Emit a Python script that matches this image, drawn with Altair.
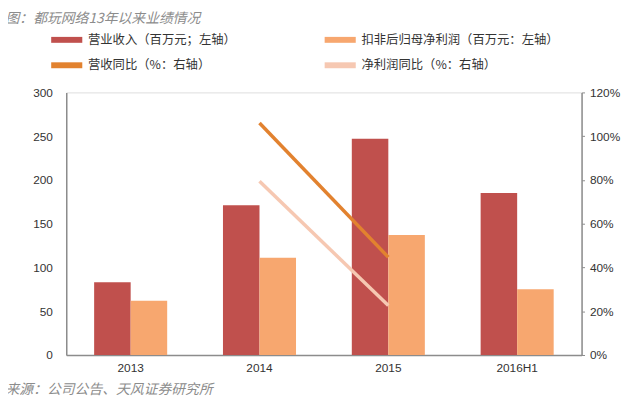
import altair as alt
import pandas as pd

years = ["2013", "2014", "2015", "2016H1"]
revenue = [83, 171, 247, 185]
net_profit = [62, 111, 137, 75]

growth_years = ["2014", "2015"]
revenue_growth = [1.06, 0.447]
profit_growth = [0.794, 0.226]

s_rev = "营业收入（百万元；左轴）"
s_np = "扣非后归母净利润（百万元：左轴）"
s_rg = "营收同比（%：右轴）"
s_pg = "净利润同比（%：右轴）"
series = [s_rev, s_rg, s_np, s_pg]
colors = ["#C0504D", "#E2822F", "#F7A76F", "#F6C8B2"]

chart_title = "图：都玩网络13年以来业绩情况"
source_note = "来源：公司公告、天风证券研究所"

bars = pd.DataFrame(
    [{"year": y, "series": s_rev, "value": v} for y, v in zip(years, revenue)]
    + [{"year": y, "series": s_np, "value": v} for y, v in zip(years, net_profit)]
)
lines = pd.DataFrame(
    [{"year": y, "series": s_rg, "value": v} for y, v in zip(growth_years, revenue_growth)]
    + [{"year": y, "series": s_pg, "value": v} for y, v in zip(growth_years, profit_growth)]
)

font = "Liberation Sans"
cjk = "Noto Sans CJK SC"
note_grey = "#8C8C8C"

xscale = alt.Scale(domain=years, paddingInner=0.433, paddingOuter=0.2165)
color = alt.Color(
    "series:N",
    scale=alt.Scale(domain=series, range=colors),
    legend=alt.Legend(
        title=None,
        orient="none",
        legendX=-13,
        legendY=-67,
        columns=2,
        columnPadding=76,
        rowPadding=-4,
        symbolType="M-1.5,0H1.5",
        symbolStrokeWidth=6,
        symbolSize=441,
        symbolOffset=0,
        labelFont=cjk,
        labelFontSize=12.5,
        labelColor="#333333",
        labelOffset=8,
        labelLimit=400,
    ),
)

bar_layer = alt.Chart(bars).mark_bar().encode(
    x=alt.X(
        "year:N",
        scale=xscale,
        sort=years,
        axis=alt.Axis(
            title=source_note,
            titleFont=cjk,
            titleFontSize=14,
            titleFontStyle="italic",
            titleFontWeight="normal",
            titleColor=note_grey,
            titleAnchor="start",
            titleAlign="left",
            titleBaseline="middle",
            titleX=-62,
            titleY=35,
            labelAngle=0,
            labelFont=font,
            labelFontSize=12,
            labelColor="#333333",
            labelPadding=8,
            ticks=False,
            domainColor="#8C8C8C",
            domainWidth=1.5,
        ),
    ),
    xOffset=alt.XOffset("series:N", scale=alt.Scale(domain=[s_rev, s_np], paddingInner=0, paddingOuter=0)),
    y=alt.Y(
        "value:Q",
        scale=alt.Scale(domain=[0, 300]),
        axis=alt.Axis(
            title=chart_title,
            titleFont=cjk,
            titleFontSize=14,
            titleFontStyle="italic",
            titleFontWeight="normal",
            titleColor=note_grey,
            titleAngle=0,
            titleAlign="left",
            titleBaseline="middle",
            titleX=-62,
            titleY=-75,
            values=[0, 50, 100, 150, 200, 250, 300],
            labelFont=font,
            labelFontSize=12,
            labelColor="#333333",
            labelPadding=14,
            ticks=False,
            grid=False,
            domainColor="#8C8C8C",
            domainWidth=1.5,
        ),
    ),
    color=color,
)

line_layer = alt.Chart(lines).mark_line(strokeWidth=3.5).encode(
    x=alt.X("year:N", scale=xscale, sort=years),
    y=alt.Y(
        "value:Q",
        scale=alt.Scale(domain=[0, 1.2]),
        axis=alt.Axis(
            title=None,
            orient="right",
            values=[0, 0.2, 0.4, 0.6, 0.8, 1.0, 1.2],
            format=".0%",
            labelFont=font,
            labelFontSize=12,
            labelColor="#333333",
            labelPadding=5,
            ticks=True,
            tickSize=3,
            tickColor="#8C8C8C",
            grid=False,
            domainColor="#8C8C8C",
            domainWidth=1.5,
        ),
    ),
    color=color,
    detail="series:N",
)

chart = (
    alt.layer(bar_layer, line_layer)
    .resolve_scale(y="independent")
    .properties(
        width=522,
        height=266,
        autosize=alt.AutoSizeParams(type="none"),
        padding={"left": 59, "top": 83, "right": 45, "bottom": 39},
    )
    .configure_view(stroke=None)
    .configure(background="white")
)

chart.save("out.html", embed_options={"renderer": "svg", "actions": False})
